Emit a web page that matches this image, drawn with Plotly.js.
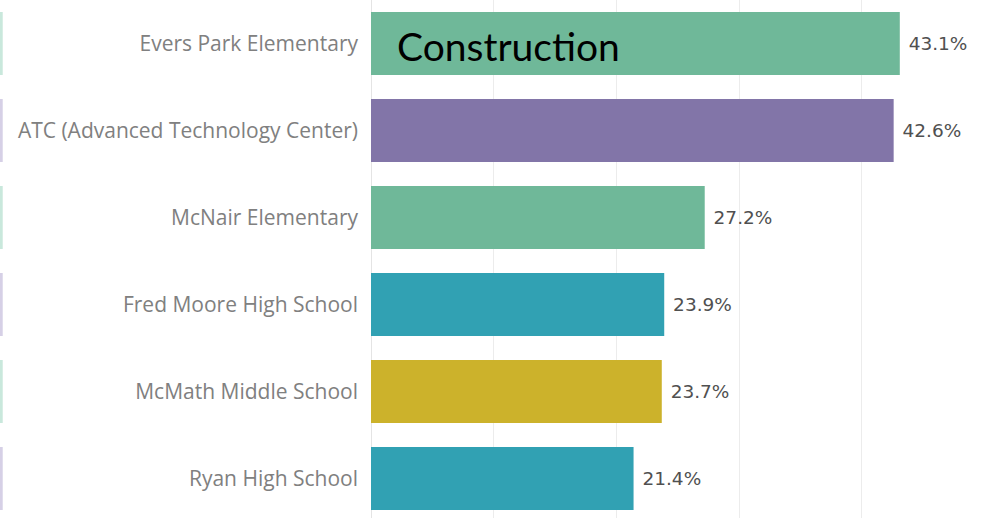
<!DOCTYPE html>
<html>
<head>
<meta charset="utf-8">
<script src="https://cdn.plot.ly/plotly-3.0.1.min.js"></script>
<style>
  html, body { margin: 0; padding: 0; background: #fff; }
  #chart { width: 982px; height: 518px; }
</style>
</head>
<body>
<div id="chart"></div>
<script>
const schools = [
  "Evers Park Elementary",
  "ATC (Advanced Technology Center)",
  "McNair Elementary",
  "Fred Moore High School",
  "McMath Middle School",
  "Ryan High School"
];
const percents = [43.1, 42.6, 27.2, 23.9, 23.7, 21.4];
const barColors = ["#6fb899", "#8275a8", "#6fb899", "#31a1b3", "#ccb22b", "#31a1b3"];
const stripeColors = ["#c9e8dc", "#d6d0e6", "#c9e8dc", "#d6d0e6", "#c9e8dc", "#d6d0e6"];
const gridTicks = [10, 20, 30, 40];
const overlayTitle = "Construction";

const trace = {
  type: "bar",
  orientation: "h",
  y: schools,
  x: percents,
  marker: { color: barColors, line: { width: 0 } },
  width: 0.724,
  text: percents.map(v => " " + v.toFixed(1) + "%"),
  textposition: "outside",
  textfont: { family: "DejaVu Sans, sans-serif", size: 18.5, color: "#505050" },
  cliponaxis: false,
  hoverinfo: "none"
};

const shapes = schools.map((s, i) => ({
  type: "line",
  xref: "paper", yref: "y",
  x0: -371 / 611 + 0.002, x1: -371 / 611 + 0.002,
  y0: i - 0.362, y1: i + 0.362,
  line: { color: stripeColors[i], width: 3 }
}));

const layout = {
  width: 982, height: 518,
  margin: { l: 371, r: 0, t: 0, b: 0, pad: 0 },
  paper_bgcolor: "#ffffff",
  plot_bgcolor: "#ffffff",
  showlegend: false,
  bargap: 0.276,
  xaxis: {
    range: [0, 49.8],
    tickvals: gridTicks,
    showticklabels: false,
    showgrid: true,
    gridcolor: "#ececec",
    gridwidth: 1,
    zeroline: true,
    zerolinecolor: "#e4e4e4",
    zerolinewidth: 1,
    showline: false,
    fixedrange: true
  },
  yaxis: {
    type: "category",
    categoryorder: "array",
    categoryarray: schools,
    range: [5.454, -0.5],
    showgrid: false,
    zeroline: false,
    showline: false,
    ticks: "",
    ticklabelstandoff: 12,
    tickfont: { family: "Open Sans, sans-serif", size: 21, color: "#808080" },
    fixedrange: true
  },
  shapes: shapes,
  annotations: [{
    text: overlayTitle,
    xref: "paper", yref: "paper",
    x: 24 / 611, y: 1 - 46 / 518,
    xanchor: "left", yanchor: "middle",
    showarrow: false,
    font: { family: "Lato, sans-serif", size: 39, color: "#000000" }
  }]
};

Plotly.newPlot("chart", [trace], layout, { displayModeBar: false, staticPlot: true });
</script>
</body>
</html>
